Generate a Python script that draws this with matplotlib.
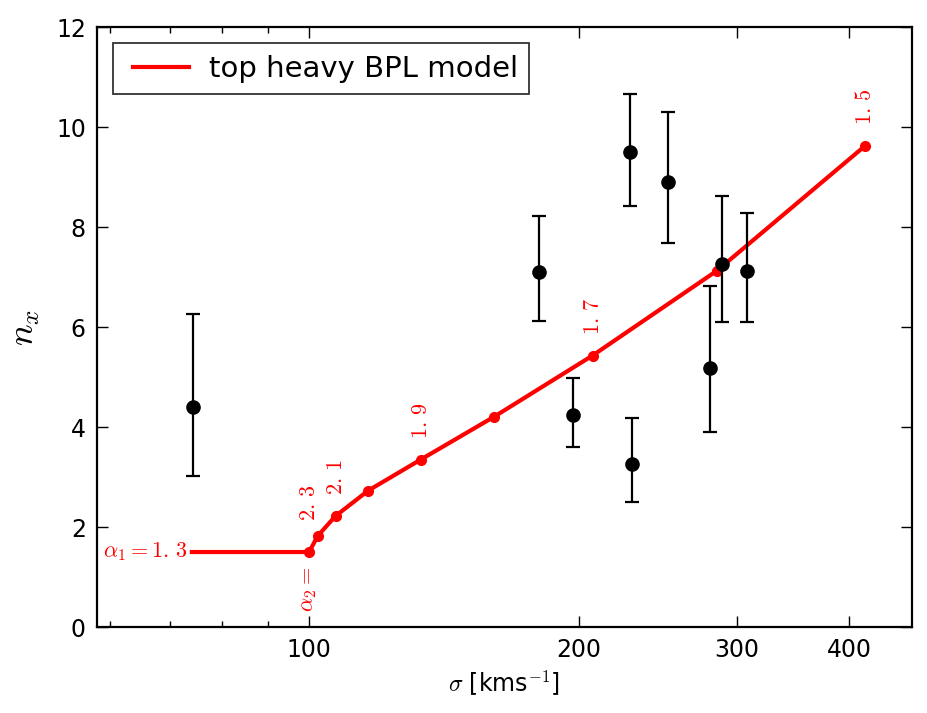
import matplotlib
matplotlib.use("Agg")
import matplotlib.pyplot as plt
import matplotlib.ticker as mticker
from matplotlib.lines import Line2D
from matplotlib.legend_handler import HandlerLine2D

plt.rcParams["mathtext.fontset"] = "cm"
plt.rcParams["font.family"] = "DejaVu Sans"

# observed points with asymmetric error bars
sigma_obs = [74.2, 180.5, 196.8, 228.0, 229.0, 251.0, 280.0, 288.5, 307.6]
n_obs = [4.40, 7.11, 4.25, 9.50, 3.27, 8.91, 5.18, 7.27, 7.12]
n_upper = [6.27, 8.23, 4.99, 10.67, 4.19, 10.31, 6.82, 8.63, 8.29]
n_lower = [3.03, 6.13, 3.61, 8.43, 2.51, 7.69, 3.90, 6.11, 6.11]

# top heavy BPL model track (alpha2 = 2.3 ... 1.5)
sigma_model = [100.0, 102.2, 107.0, 116.4, 133.2, 160.9, 207.0, 285.0, 417.0]
n_model = [1.50, 1.82, 2.22, 2.73, 3.35, 4.21, 5.43, 7.13, 9.63]
alpha2 = ["2.3", "2.2", "2.1", "2.0", "1.9", "1.8", "1.7", "1.6", "1.5"]
sigma_flat = [74.0, 100.0]
n_flat = [1.5, 1.5]

x_ticks = [100, 200, 300, 400]
y_ticks = [0, 2, 4, 6, 8, 10, 12]

fig = plt.figure(figsize=(9.27, 7.13), dpi=100)
ax = fig.add_axes([0.1046, 0.1206, 0.8792, 0.8414])

ax.plot(sigma_flat + sigma_model[1:], n_flat + n_model[1:], color="red",
        lw=3, label="top heavy BPL model", zorder=3)
ax.plot(sigma_model, n_model, "o", color="red", ms=7, mec="red", zorder=4)

yerr = [[n - lo for n, lo in zip(n_obs, n_lower)],
        [hi - n for n, hi in zip(n_obs, n_upper)]]
ax.errorbar(sigma_obs, n_obs, yerr=yerr, fmt="o", color="black", ms=9.5,
            elinewidth=1.6, capsize=5, capthick=1.6, zorder=5)

# alpha2 labels on every other model point
for i, (s, n, a) in enumerate(zip(sigma_model, n_model, alpha2)):
    if i % 2:
        continue
    off = 0.63 if i == 0 else 0.42
    ax.text(s, n + off, "$" + a.replace(".", r".\,") + "$", color="red",
            rotation=90, ha="center", va="bottom", fontsize=16)
ax.text(sigma_model[0], n_model[0] - 0.3, r"$\alpha_2 =$", color="red",
        rotation=90, ha="center", va="top", fontsize=16)
ax.text(73.3, n_flat[0], r"$\alpha_1 = 1.\,3$", color="red",
        ha="right", va="center", fontsize=16)

ax.set_xscale("log")
ax.set_xlim(58, 470)
ax.set_ylim(0, 12)
ax.xaxis.set_major_locator(mticker.FixedLocator(x_ticks))
ax.xaxis.set_major_formatter(mticker.FixedFormatter([str(t) for t in x_ticks]))
ax.xaxis.set_minor_locator(mticker.FixedLocator([60, 70, 80, 90]))
ax.xaxis.set_minor_formatter(mticker.NullFormatter())
ax.set_yticks(y_ticks)

ax.tick_params(which="both", direction="in", top=True, right=True,
               labelsize=17, pad=8)
ax.tick_params(which="major", length=8, width=1)
ax.tick_params(which="minor", length=4, width=1)
for sp in ax.spines.values():
    sp.set_linewidth(1.6)

ax.set_xlabel(r"$\sigma$ [kms$^{-1}$]", fontsize=17)
ax.set_ylabel(r"$n_x$", fontsize=26, labelpad=10)

leg = ax.legend(loc="upper left", fontsize=21, fancybox=False, borderpad=0.4,
                handlelength=2.19, handletextpad=0.69, borderaxespad=0.55,
                handler_map={Line2D: HandlerLine2D(xpad=0.3)})
leg.get_frame().set_edgecolor("black")
leg.get_frame().set_linewidth(1.3)

fig.savefig("out.png", dpi=100)
